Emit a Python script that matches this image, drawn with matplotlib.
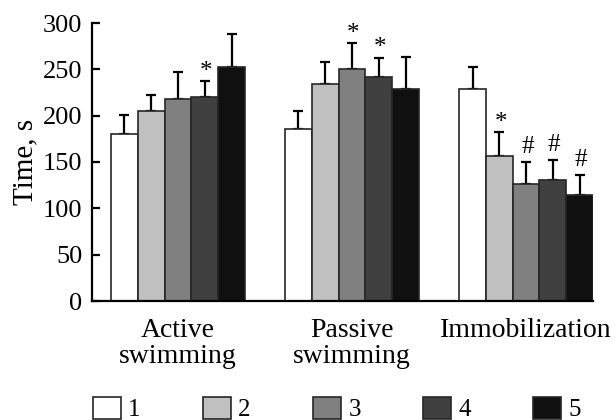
import matplotlib
matplotlib.use("Agg")
import matplotlib.pyplot as plt
import matplotlib.patches as mpatches
import numpy as np

# Daten
groups = ["Active\nswimming", "Passive\nswimming", "Immobilization"]
series = ["1", "2", "3", "4", "5"]
means = [
    [180, 205, 218, 220, 253],   # 1
    [186, 234, 250, 242, 229],   # 2
    [229, 156, 126, 131, 114],   # 3
]
errs = [
    [21, 17, 29, 17, 35],
    [19, 24, 28, 20, 34],
    [23, 26, 24, 21, 22],
]
marks = [
    ["", "", "", "*", ""],
    ["", "", "*", "*", ""],
    ["", "*", "#", "#", "#"],
]

# Einstellungen
fills = ["#ffffff", "#c0c0c0", "#808080", "#404040", "#101010"]
edge = "#262626"
plt.rcParams["font.family"] = ["Liberation Serif", "DejaVu Serif"]
fs = 20

fig = plt.figure(figsize=(6.15, 4.2), dpi=100)
ax = fig.add_axes([92 / 615, 1 - 301 / 420, 501 / 615, 278 / 420])

means = np.array(means, dtype=float)
errs = np.array(errs, dtype=float)
centers = np.arange(len(groups)) * 6.5
offsets = np.arange(len(series)) - 2

for s in range(len(series)):
    x = centers + offsets[s]
    y = means[:, s]
    e = errs[:, s]
    ax.bar(x, y, width=1.0, color=fills[s], edgecolor=edge, linewidth=1.2, zorder=2)
    ax.errorbar(x, y, yerr=[np.zeros_like(e), e], fmt="none", ecolor="black",
                elinewidth=1.6, capsize=3.8, capthick=1.6, zorder=1)
    for g in range(len(groups)):
        m = marks[g][s]
        if m:
            dy = 7 if m == "*" else 11
            ax.annotate(m, (x[g], y[g] + e[g]), xytext=(1, dy), textcoords="offset points",
                        ha="center", va="center", fontsize=18)

# Achsen
ax.set_xlim(centers[0] - 3.21, centers[-1] + 2.5)
ax.set_ylim(0, 300)
ax.set_yticks(np.arange(0, 301, 50))
ax.set_xticks(centers)
ax.set_xticklabels(groups, fontsize=fs, linespacing=1.05)
ax.tick_params(axis="x", length=0, pad=12)
ax.tick_params(axis="y", direction="in", length=6, width=1.6, pad=7, labelsize=19)
ax.set_ylabel("Time, s", fontsize=21, labelpad=3)
for side in ["top", "right"]:
    ax.spines[side].set_visible(False)
for side in ["left", "bottom"]:
    ax.spines[side].set_linewidth(1.6)

# Legende
handles = [mpatches.Patch(facecolor=fills[i], edgecolor=edge, linewidth=1.2, label=series[i])
           for i in range(len(series))]
fig.legend(handles=handles, ncol=5, loc="center", bbox_to_anchor=(0.548, 1 - 409 / 420),
           frameon=False, fontsize=18, handlelength=1.1, handleheight=1.0,
           handletextpad=0.3, columnspacing=2.5, borderpad=0)

fig.savefig("out.png", dpi=100)
